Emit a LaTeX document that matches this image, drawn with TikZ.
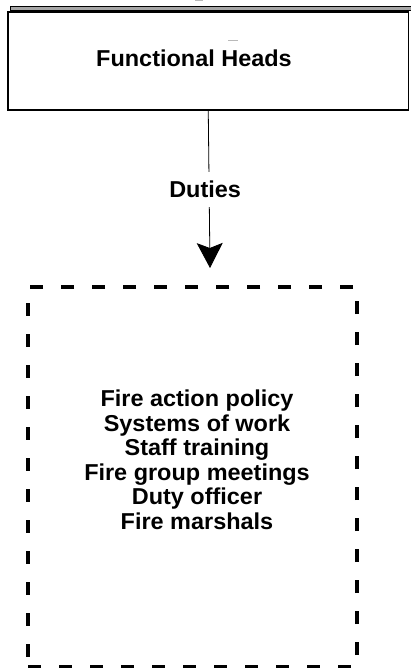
\documentclass[tikz,border=0pt]{standalone}
\usepackage{fontspec}
\setmainfont{Liberation Sans}[FakeStretch=1.02]
\usetikzlibrary{arrows.meta}
\begin{document}
\begin{tikzpicture}[x=1pt,y=-1pt,
  txt/.style={font=\fontsize{23}{24.5}\selectfont\bfseries, inner sep=0pt, align=center},
  headbox/.style={draw, line width=1.2pt, minimum width=400.5pt, minimum height=98pt, inner sep=0pt},
  dutybox/.style={draw, line width=3.2pt, dash pattern=on 13pt off 18pt, minimum width=329pt, minimum height=380pt, inner sep=0pt},
  conn/.style={line width=0.8pt, -{Stealth[length=25pt,width=26pt,inset=5pt]}},
  artifact/.style={gray!55}]
\useasboundingbox (0,0) rectangle (410,668);
% top band
\draw[fill=gray!70, line width=0.8pt] (10,6) rectangle (416,10.5);
\fill[artifact] (195,0) rectangle (203,1.5);
% head box
\node[headbox] (head) at (208.25,61) {};
\node[txt, anchor=base] (headtxt) at (194,67) {Functional Heads};
\draw[artifact, line width=0.8pt] (228,40) -- (238,40);
% dashed box
\node[dutybox] (duty) at (192.5,477) {};
\node[txt, anchor=north] (dutytxt) at (197,390) {Fire action policy\\Systems of work\\Staff training\\Fire group meetings\\Duty officer\\Fire marshals};
% connector
\coordinate (tip) at (210,268);
\draw[conn] (head.south) -- node[txt, fill=white, inner xsep=2pt, inner ysep=9pt, xshift=-4pt] (duties) {Duties} (tip);
\end{tikzpicture}
\end{document}
